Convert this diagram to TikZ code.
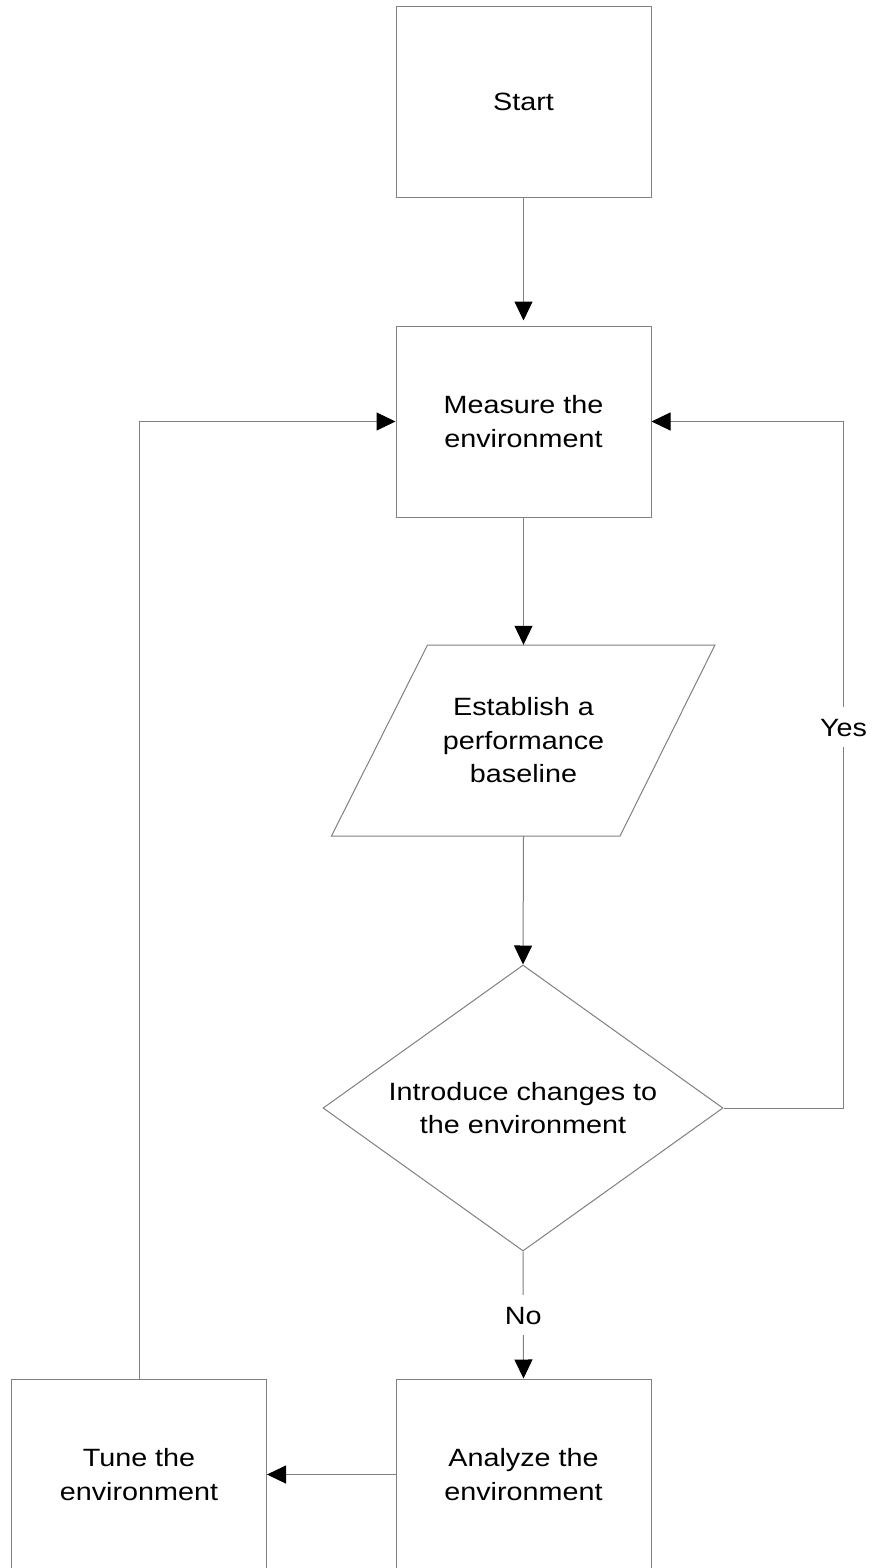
\documentclass[tikz,border=0pt]{standalone}
\usepackage{fontspec}
\setmainfont[FakeStretch=1.15]{Liberation Sans}
\usetikzlibrary{arrows.meta,shapes.geometric}
\definecolor{linegray}{RGB}{128,128,128}
\begin{document}
\begin{tikzpicture}[x=1pt,y=-1pt,
  font=\fontsize{25}{33.5}\selectfont,
  box/.style={draw=linegray, line width=1pt, minimum width=255pt, minimum height=191pt, align=center, inner sep=0pt},
  conn/.style={draw=linegray, line width=1pt},
  arr/.style={conn, -{Triangle[length=19pt,width=18pt,color=black]}},
  lbl/.style={fill=white, inner sep=11pt, text height=18pt, text depth=0pt}
]
\useasboundingbox[fill=white] (0,0) rectangle (875,1568);

\node[box] (start) at (523.5,102) {Start};
\node[box] (measure) at (523.5,421.5) {Measure the\\environment};

\draw[conn] (427.5,645) -- (715,645) -- (620,836) -- (331.5,836) -- cycle;
\node[minimum width=190pt, minimum height=191pt, align=center, inner sep=0pt] (est) at (523.5,740.5) {Establish a\\performance\\baseline};

\node[diamond, draw=linegray, line width=1pt, aspect=1.4, minimum width=400pt, minimum height=286pt, inner sep=0pt, align=center] (dec) at (523,1108) {Introduce changes to\\the environment};

\node[box] (analyze) at (523.5,1474.5) {Analyze the\\environment};
\node[box] (tune) at (139,1474.5) {Tune the\\environment};

\coordinate (yc) at (843.5,1108);

\draw[arr, shorten >=5pt] (start) -- (measure);
\draw[arr] (measure) -- (est.north);
\draw[arr] (est.south) -- (dec.north);
\draw[arr] (dec.south) -- node[lbl] (no) {No} (analyze.north);
\draw[arr] (analyze.west) -- (tune.east);
\draw[arr] (tune.north) |- (measure.west);
\draw[arr] (dec.east) -- (yc) |- (measure.east);
\node[lbl] (yes) at (843.5,727) {Yes};
\end{tikzpicture}
\end{document}
